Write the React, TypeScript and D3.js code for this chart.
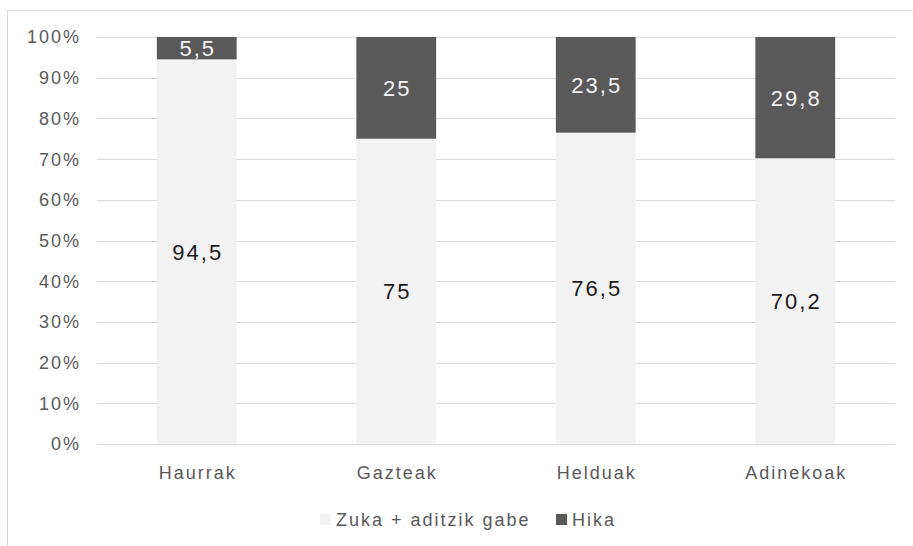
import { useEffect, useRef } from 'react';
import * as d3 from 'd3';

const categories = ['Haurrak', 'Gazteak', 'Helduak', 'Adinekoak'];
const zukaValues = [94.5, 75, 76.5, 70.2];
const hikaValues = [5.5, 25, 23.5, 29.8];
const yTicks = [0, 10, 20, 30, 40, 50, 60, 70, 80, 90, 100];
const seriesNames = ['Zuka + aditzik gabe', 'Hika'];

const fmt = (v: number) => String(v).replace('.', ',');

export default function App() {
  const svgRef = useRef<SVGSVGElement>(null);

  useEffect(() => {
    const W = 913;
    const H = 546;
    const margin = { top: 37, right: 18, bottom: 102, left: 97 };
    const width = W - margin.left - margin.right;
    const chartHeight = H - margin.top - margin.bottom;

    const root = d3.select(svgRef.current);
    root.selectAll('*').remove();
    root.attr('width', W).attr('height', H);

    root.append('rect')
      .attr('width', W)
      .attr('height', H)
      .attr('fill', '#ffffff');

    // chart border
    root.append('rect')
      .attr('x', 7.5)
      .attr('y', 10.5)
      .attr('width', W + 10)
      .attr('height', H + 10)
      .attr('fill', 'none')
      .attr('stroke', '#d9d9d9')
      .attr('stroke-width', 1);

    const svg = root.append('g')
      .attr('transform', `translate(${margin.left},${margin.top})`);

    const xScale = d3.scaleBand()
      .domain(categories)
      .range([0, width])
      .paddingInner(0.6)
      .paddingOuter(0.3);

    const yScale = d3.scaleLinear()
      .domain([0, 100])
      .range([chartHeight, 0]);

    // grid lines
    svg.append('g')
      .selectAll('line')
      .data(yTicks)
      .enter()
      .append('line')
      .attr('x1', 0)
      .attr('x2', width)
      .attr('y1', d => Math.round(yScale(d)) + 0.5)
      .attr('y2', d => Math.round(yScale(d)) + 0.5)
      .attr('stroke', '#d9d9d9')
      .attr('stroke-width', 1);

    // y labels
    svg.append('g')
      .selectAll('text')
      .data(yTicks)
      .enter()
      .append('text')
      .attr('x', -16)
      .attr('y', d => yScale(d))
      .attr('dy', '0.36em')
      .attr('text-anchor', 'end')
      .text(d => `${d}%`)
      .style('font-family', 'Liberation Sans, Arial, sans-serif')
      .style('font-size', '18px')
      .style('letter-spacing', '2px')
      .style('fill', '#595959');

    const data = categories.map((c, i) => ({ label: c, zuka: zukaValues[i], hika: hikaValues[i] }));

    // Zuka bars (bottom)
    svg.selectAll('.bar-zuka')
      .data(data)
      .enter()
      .append('rect')
      .attr('class', 'bar-zuka')
      .attr('x', d => xScale(d.label)!)
      .attr('width', xScale.bandwidth())
      .attr('y', d => yScale(d.zuka))
      .attr('height', d => chartHeight - yScale(d.zuka))
      .attr('fill', '#f2f2f2');

    // Hika bars (top)
    svg.selectAll('.bar-hika')
      .data(data)
      .enter()
      .append('rect')
      .attr('class', 'bar-hika')
      .attr('x', d => xScale(d.label)!)
      .attr('width', xScale.bandwidth())
      .attr('y', d => yScale(d.zuka + d.hika))
      .attr('height', d => yScale(d.zuka) - yScale(d.zuka + d.hika))
      .attr('fill', '#595959');

    // value labels
    svg.selectAll('.lbl-zuka')
      .data(data)
      .enter()
      .append('text')
      .attr('x', d => xScale(d.label)! + xScale.bandwidth() / 2 + 1)
      .attr('y', d => (yScale(0) + yScale(d.zuka)) / 2)
      .attr('dy', '0.36em')
      .attr('text-anchor', 'middle')
      .text(d => fmt(d.zuka))
      .style('font-family', 'Liberation Sans, Arial, sans-serif')
      .style('font-size', '22px')
      .style('letter-spacing', '2px')
      .style('fill', '#1a1a1a');

    svg.selectAll('.lbl-hika')
      .data(data)
      .enter()
      .append('text')
      .attr('x', d => xScale(d.label)! + xScale.bandwidth() / 2 + 1)
      .attr('y', d => (yScale(d.zuka) + yScale(d.zuka + d.hika)) / 2)
      .attr('dy', '0.36em')
      .attr('text-anchor', 'middle')
      .text(d => fmt(d.hika))
      .style('font-family', 'Liberation Sans, Arial, sans-serif')
      .style('font-size', '22px')
      .style('letter-spacing', '2px')
      .style('fill', '#f2f2f2');

    // x labels
    svg.append('g')
      .selectAll('text')
      .data(categories)
      .enter()
      .append('text')
      .attr('x', d => xScale(d)! + xScale.bandwidth() / 2 + 1)
      .attr('y', chartHeight + 35)
      .attr('text-anchor', 'middle')
      .text(d => d)
      .style('font-family', 'Liberation Sans, Arial, sans-serif')
      .style('font-size', '18px')
      .style('letter-spacing', '2px')
      .style('fill', '#595959');

    // legend
    const legend = root.append('g').attr('transform', 'translate(320, 520)');
    const legendColors = ['#f2f2f2', '#595959'];
    const legendX = [0, 236];
    seriesNames.forEach((name, i) => {
      legend.append('rect')
        .attr('x', legendX[i])
        .attr('y', -6)
        .attr('width', 11)
        .attr('height', 11)
        .attr('fill', legendColors[i]);
      legend.append('text')
        .attr('x', legendX[i] + 16)
        .attr('y', 0)
        .attr('dy', '0.36em')
        .text(name)
        .style('font-family', 'Liberation Sans, Arial, sans-serif')
        .style('font-size', '18px')
        .style('letter-spacing', '2px')
        .style('fill', '#595959');
    });
  }, []);

  return (
    <svg ref={svgRef} style={{ position: 'absolute', left: 0, top: 0, display: 'block' }}></svg>
  );
}
